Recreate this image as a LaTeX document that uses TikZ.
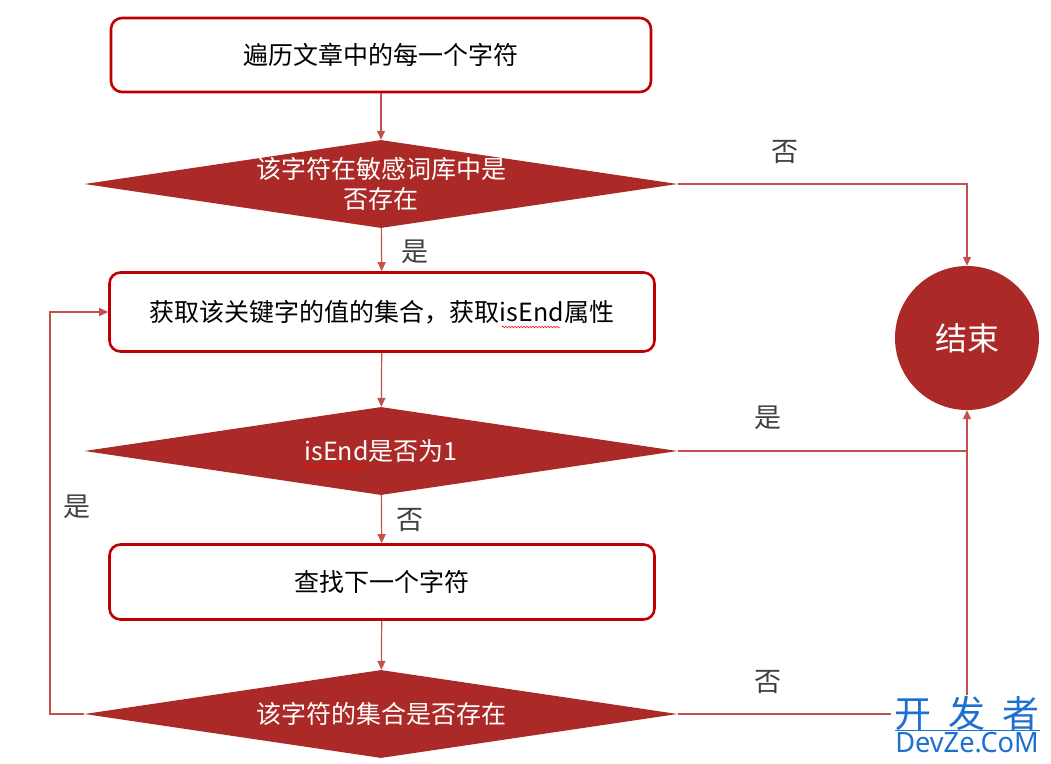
\documentclass[tikz,border=0pt]{standalone}
\usepackage{fontspec}
\setmainfont{Noto Sans CJK SC}
\newfontfamily\wmlatin{Noto Sans}
\usetikzlibrary{shapes.geometric,arrows.meta,decorations.pathmorphing,calc}
\definecolor{boxred}{HTML}{C00000}
\definecolor{diafill}{HTML}{AB2A27}
\definecolor{lnred}{HTML}{C4504C}
\definecolor{lblgray}{HTML}{404040}
\definecolor{wmblue}{HTML}{1F6FD1}
\tikzset{
  stepbox/.style={draw=boxred, line width=2.6pt, rounded corners=11pt, fill=white,
    minimum height=75pt, inner sep=0pt, font=\fontsize{25}{28}\selectfont, text=black},
  dia/.style={diamond, fill=diafill, draw=none, inner sep=0pt, minimum width=593pt, minimum height=88pt},
  wtext/.style={text=white, font=\fontsize{25}{30}\selectfont, align=center, inner sep=0pt},
  lbl/.style={text=lblgray, font=\fontsize{27}{30}\selectfont, inner sep=0pt},
  conn/.style={draw=lnred, line width=1.2pt, -{Triangle[length=9pt,width=8pt]}},
  plain/.style={draw=lnred, line width=1.2pt},
  wavy/.style={draw=red, line width=0.5pt, decorate, decoration={snake, amplitude=0.9pt, segment length=3pt}}
}
\begin{document}
\begin{tikzpicture}[x=1pt,y=-1pt]
\useasboundingbox (0,0) rectangle (1051,763);
% nodes
\node[stepbox, minimum width=540pt, minimum height=74pt] (b1) at (381,55) {遍历文章中的每一个字符};
\node[dia] (d1) at (381,184) {};
\node[wtext] (d1t) at (381,184) {该字符在敏感词库中是\\否存在};
\node[stepbox, minimum width=545pt, minimum height=79pt] (b2) at (382,312) {获取该关键字的值的集合，获取isEnd属性};
\node[dia] (d2) at (381,451) {};
\node[wtext] (d2t) at (381,451) {isEnd是否为1};
\node[stepbox, minimum width=545pt, minimum height=75pt] (b3) at (382,582) {查找下一个字符};
\node[dia] (d3) at (381,714) {};
\node[wtext] (d3t) at (381,714) {该字符的集合是否存在};
\node[circle, fill=diafill, minimum size=144pt, inner sep=0pt, text=white,
  font=\fontsize{32}{36}\selectfont] (end) at (967,338) {结束};
% spell-check wavy underlines
\draw[wavy] (502,327) -- (560,327);
\draw[wavy] (305,467) -- (365,467);
% connectors
\coordinate (lp) at (50,714);
\draw[conn] (b1) -- (d1);
\draw[conn] (d1) -- (b2);
\draw[conn] (b2) -- (d2);
\draw[conn] (d2) -- (b3);
\draw[conn] (b3) -- (d3);
\draw[conn] (d1.east) -- (d1.east -| end) -- (end.north);
\draw[conn] (d2.east) -- (d2.east -| end) -- (end.south);
\draw[plain] (d3.east) -- (d3.east -| end) -- (d2.east -| end);
\draw[conn] (d3.west) -- (lp) |- (b2.west);
% labels
\node[lbl] (l1) at (785,152) {否};
\node[lbl] (l2) at (415,252) {是};
\node[lbl] (l3) at (768,418) {是};
\node[lbl] (l4) at (410,520) {否};
\node[lbl] (l5) at (768,682) {否};
\node[lbl] (l6) at (77,507) {是};
% watermark
\node[fill=white, inner sep=0pt, minimum width=152pt, minimum height=68pt] (wmbg) at (967,729) {};
\node[text=wmblue, font=\fontsize{37}{40}\selectfont, inner sep=0pt] (wm1) at (967,713) {开\hspace{0.45em}发\hspace{0.45em}者};
\node[text=wmblue, font=\wmlatin\fontsize{28}{30}\selectfont, inner sep=0pt, xscale=0.97] (wm2) at (967,743) {DevZe.CoM};
\draw[wmblue, line width=0.6pt] (895,730) -- (1040,730);
\end{tikzpicture}
\end{document}
